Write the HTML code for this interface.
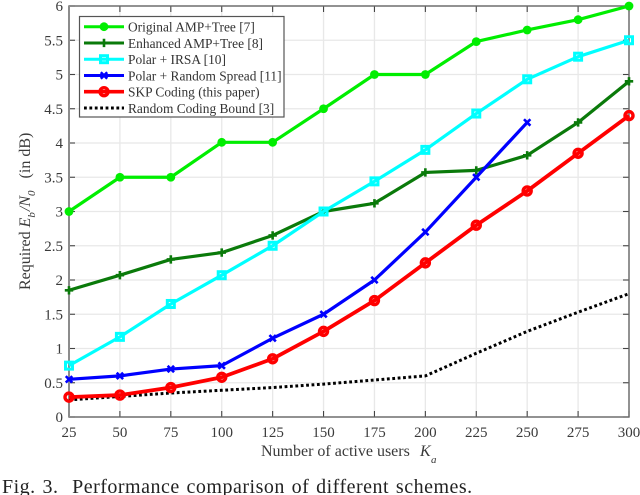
<!DOCTYPE html>
<html>
<head>
<meta charset="utf-8">
<title>Performance comparison</title>
<style>
html,body{margin:0;padding:0;background:#fff;width:640px;height:495px;overflow:hidden}
svg{display:block;font-family:"Liberation Serif",serif;filter:blur(0.35px)}
</style>
</head>
<body>
<svg id="chart" width="640" height="495" viewBox="0 0 640 495">
<text x="261" y="456" font-size="16" fill="#3a3a3a">Number of active users<tspan x="420" font-style="italic">K</tspan><tspan x="431" y="463" font-size="11" font-style="italic">a</tspan></text>
<text transform="translate(30,290) rotate(-90)" font-size="16" fill="#3a3a3a" xml:space="preserve">Required <tspan font-style="italic">E</tspan><tspan font-style="italic" font-size="11" dy="5">b</tspan><tspan font-style="italic" dy="-5" dx="1">/N</tspan><tspan font-style="italic" font-size="11" dy="5">0</tspan><tspan dy="-5" dx="4">  (in dB)</tspan></text>
<text x="2" y="493" font-size="20" fill="#222" letter-spacing="0.5" word-spacing="1.3" xml:space="preserve">Fig. 3.  Performance comparison of different schemes.</text>
</svg>
<script>
const xTicks = [25, 50, 75, 100, 125, 150, 175, 200, 225, 250, 275, 300];
const yTicks = [0, 0.5, 1, 1.5, 2, 2.5, 3, 3.5, 4, 4.5, 5, 5.5, 6];
const originalAmpTree = [3, 3.5, 3.5, 4.01, 4.01, 4.5, 5, 5, 5.48, 5.65, 5.8, 6];
const enhancedAmpTree = [1.85, 2.07, 2.3, 2.4, 2.65, 3.0, 3.12, 3.57, 3.6, 3.82, 4.3, 4.9];
const polarIrsa = [0.75, 1.17, 1.65, 2.07, 2.5, 3.0, 3.44, 3.9, 4.43, 4.93, 5.26, 5.5];
const polarSpread = [0.55, 0.6, 0.7, 0.75, 1.15, 1.5, 2, 2.7, 3.5, 4.3];
const skpCoding = [0.29, 0.32, 0.43, 0.58, 0.85, 1.25, 1.7, 2.25, 2.8, 3.3, 3.85, 4.4];
const randomBound = [0.25, 0.3, 0.35, 0.39, 0.43, 0.48, 0.54, 0.6, 0.93, 1.25, 1.53, 1.8];
const legendLabels = ['Original AMP+Tree [7]', 'Enhanced AMP+Tree [8]', 'Polar + IRSA [10]', 'Polar + Random Spread [11]', 'SKP Coding (this paper)', 'Random Coding Bound [3]'];

const NS = 'http://www.w3.org/2000/svg';
const svg = document.getElementById('chart');
const L = 69, R = 629, T = 6, B = 417;
const xScale = v => L + (v - 25) / 275 * (R - L);
const yScale = v => B - v / 6 * (B - T);

function make(tag, attrs, parent) {
  const e = document.createElementNS(NS, tag);
  for (const k in attrs) e.setAttribute(k, attrs[k]);
  (parent || svg).appendChild(e);
  return e;
}

const grid = make('g', {stroke: '#e8e8e8', 'stroke-width': 1.3});


xTicks.forEach(v => { make('line', {x1: xScale(v), x2: xScale(v), y1: T, y2: B}, grid); });
yTicks.forEach(v => { make('line', {x1: L, x2: R, y1: yScale(v), y2: yScale(v)}, grid); });

const ticks = make('g', {stroke: '#444', 'stroke-width': 1.1});


xTicks.forEach(v => {
  make('line', {x1: xScale(v), x2: xScale(v), y1: B, y2: B - 6}, ticks);
  make('line', {x1: xScale(v), x2: xScale(v), y1: T, y2: T + 6}, ticks);
});
yTicks.forEach(v => {
  make('line', {x1: L, x2: L + 6, y1: yScale(v), y2: yScale(v)}, ticks);
  make('line', {x1: R, x2: R - 6, y1: yScale(v), y2: yScale(v)}, ticks);
});

const frame = make('rect', {x: L, y: T, width: R - L, height: B - T, fill: 'none', stroke: '#666', 'stroke-width': 1.4});


const leftAxis = make('line', {x1: L, x2: L, y1: T, y2: B, stroke: '#8c8c8c', 'stroke-width': 2});



xTicks.forEach(v => {
  const t = make('text', {x: xScale(v), y: 437, 'text-anchor': 'middle', 'font-size': 15, fill: '#3a3a3a'});
  t.textContent = v;
  
  
});
yTicks.forEach(v => {
  const t = make('text', {x: 63, y: yScale(v) + 5, 'text-anchor': 'end', 'font-size': 15, fill: '#3a3a3a'});
  t.textContent = v;
  
  
});

function marker(kind, x, y, color, parent) {
  if (kind === 'dot') {
    make('circle', {cx: x, cy: y, r: 4.4, fill: color}, parent);
  } else if (kind === 'plus') {
    make('path', {d: `M${x - 4.2} ${y}H${x + 4.2}M${x} ${y - 4.2}V${y + 4.2}`, stroke: color, 'stroke-width': 2.6, fill: 'none'}, parent);
  } else if (kind === 'square') {
    make('rect', {x: x - 3.5, y: y - 3.5, width: 7, height: 7, stroke: color, 'stroke-width': 3, fill: 'none'}, parent);
  } else if (kind === 'star') {
    make('path', {d: `M${x - 3.2} ${y - 3.2}L${x + 3.2} ${y + 3.2}M${x + 3.2} ${y - 3.2}L${x - 3.2} ${y + 3.2}`, stroke: color, 'stroke-width': 2.6, fill: 'none'}, parent);
  } else if (kind === 'ring') {
    make('circle', {cx: x, cy: y, r: 4, stroke: color, 'stroke-width': 3.4, fill: 'none'}, parent);
  }
}

function drawSeries(values, color, width, kind, dash, name) {
  const g = make('g', {});
  
  
  const pts = values.map((v, i) => xScale(xTicks[i]) + ',' + yScale(v)).join(' ');
  const attrs = {points: pts, fill: 'none', stroke: color, 'stroke-width': width, 'stroke-linejoin': 'round'};
  if (dash) attrs['stroke-dasharray'] = dash;
  make('polyline', attrs, g);
  values.forEach((v, i) => marker(kind, xScale(xTicks[i]), yScale(v), color, g));
}

drawSeries(randomBound, '#000000', 3, 'none', '2.8 2.6', 'series-random-coding-bound');
drawSeries(originalAmpTree, '#00ee00', 3.2, 'dot', null, 'series-original-amp-tree');
drawSeries(enhancedAmpTree, '#0a7a0a', 3.2, 'plus', null, 'series-enhanced-amp-tree');
drawSeries(polarIrsa, '#00ffff', 3.2, 'square', null, 'series-polar-irsa');
drawSeries(polarSpread, '#0000ff', 3.2, 'star', null, 'series-polar-random-spread');
drawSeries(skpCoding, '#ff0000', 3.8, 'ring', null, 'series-skp-coding');

const legend = make('g', {});


make('rect', {x: 79.5, y: 16.5, width: 204.5, height: 100.5, fill: '#fff', stroke: '#555', 'stroke-width': 1.2}, legend);
const legendColors = ['#00ee00', '#0a7a0a', '#00ffff', '#0000ff', '#ff0000', '#000000'];
const legendKinds = ['dot', 'plus', 'square', 'star', 'ring', 'none'];
legendLabels.forEach((label, i) => {
  const y = 26.7 + i * 16.25;
  const row = make('g', {}, legend);
  
  
  const attrs = {x1: 84, x2: 124, y1: y, y2: y, stroke: legendColors[i], 'stroke-width': i === 4 ? 3.6 : 3};
  if (i === 5) attrs['stroke-dasharray'] = '2.8 2.6';
  make('line', attrs, row);
  marker(legendKinds[i], 104, y, legendColors[i], row);
  const t = make('text', {x: 128, y: y + 5, 'font-size': 13.4, fill: '#333'}, row);
  t.textContent = label;
});
</script>
</body>
</html>
